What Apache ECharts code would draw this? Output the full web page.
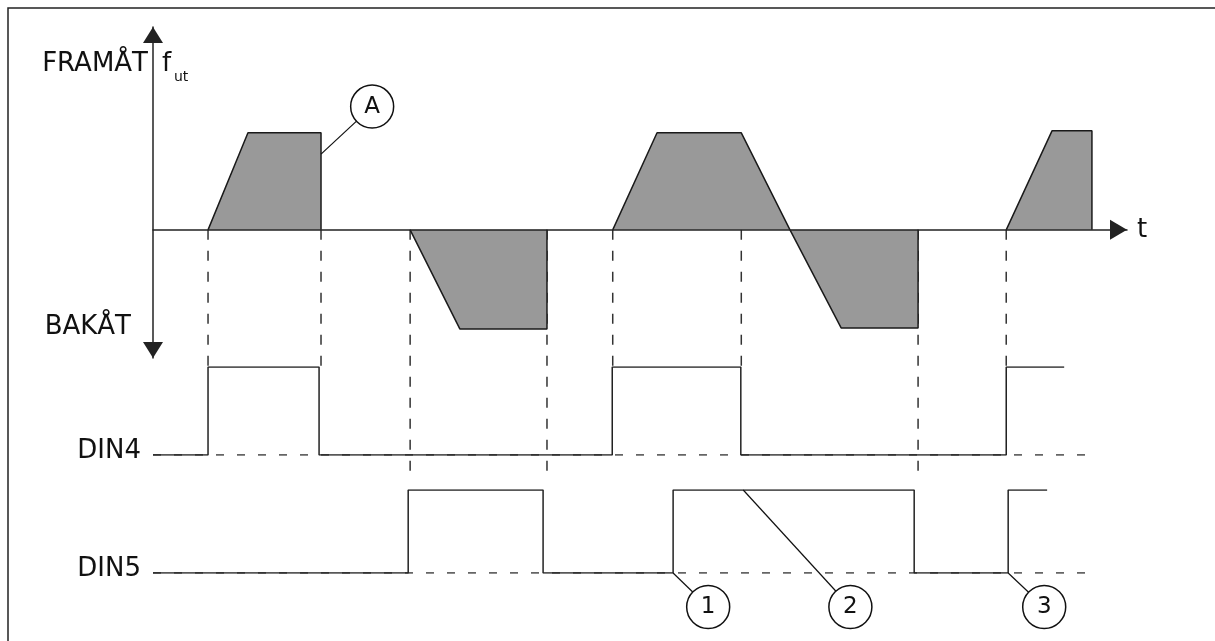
<!DOCTYPE html>
<html>
<head>
<meta charset="utf-8">
<script src="https://cdn.jsdelivr.net/npm/echarts@6/dist/echarts.min.js"></script>
<style>
html, body { margin: 0; padding: 0; background: #fff; }
#main { width: 1215px; height: 641px; }
</style>
</head>
<body>
<div id="main"></div>
<script>
// utfrekvens, pulser som [tid, f]
let pulse1 = [[5.65, 0], [9.75, 100], [17.25, 100], [17.25, 0]];
let pulse2 = [[26.4, 0], [31.5, -102], [40.45, -102], [40.45, 0]];
let pulse3 = [[47.2, 0], [51.75, 100], [60.4, 100], [65.4, 0], [70.65, -101], [78.55, -101], [78.55, 0]];
let pulse4 = [[87.6, 0], [92.3, 102], [96.4, 102], [96.4, 0]];

// digitala ingångar
let din4Times = [0, 5.65, 17.05, 47.15, 60.35, 87.6, 93.55];
let din4Levels = [0, 1, 0, 1, 0, 1, 1];
let din5Times = [0, 26.2, 40.05, 53.4, 78.15, 87.8, 91.8];
let din5Levels = [0, 1, 0, 1, 0, 1, 1];
let dinBaseEnd = 96.4;

// streckade hjälplinjer från tidsaxeln
let guideTimes = [5.65, 17.25, 26.4, 40.45, 47.2, 60.4, 78.55, 87.6];
let guideRows = [1, 1, 2, 2, 1, 1, 2, 1];
let guideLevels = [1, 1, 1.2, 1.2, 1, 1, 1.2, 1];

// markeringar
let calloutA = { name: 'A', at: [22.5, 127], from: [17.25, 78] };
let calloutNames = ['1', '2', '3'];
let calloutTimes = [57, 71.6, 91.5];
let calloutLevel = -0.41;
let calloutFromTimes = [53.4, 60.6, 87.8];
let calloutFromLevels = [0, 1, 0];

let font = '"DejaVu Sans", Verdana, sans-serif';
let ink = '#111';

let chart = echarts.init(document.getElementById('main'));

function hiddenX(i) {
    return { type: 'value', gridIndex: i, min: 0, max: 100, show: false };
}
function dinY(i, label) {
    return {
        type: 'value', gridIndex: i, min: 0, max: 1, interval: 1,
        axisLine: { show: false }, axisTick: { show: false }, splitLine: { show: false },
        axisLabel: {
            showMinLabel: true,
            formatter: function (v) { return v === 0 ? label : ''; },
            fontSize: 26, fontFamily: font, color: ink, margin: 12,
            verticalAlign: 'bottom', lineHeight: 7
        }
    };
}

function pulseSeries(data) {
    return {
        type: 'line', xAxisIndex: 0, yAxisIndex: 0, data: data,
        symbol: 'none', z: 2,
        lineStyle: { color: '#1a1a1a', width: 1.5 },
        areaStyle: { color: '#999999', opacity: 1 }
    };
}
function stepSeries(idx, times, levels) {
    return {
        type: 'line', xAxisIndex: idx, yAxisIndex: idx, step: 'end', symbol: 'none', z: 3,
        data: times.map(function (t, i) { return [t, levels[i]]; }),
        lineStyle: { color: '#222', width: 1.5 }
    };
}
function baseSeries(idx) {
    return {
        type: 'line', xAxisIndex: idx, yAxisIndex: idx, symbol: 'none', z: 2,
        data: [[0, 0], [dinBaseEnd, 0]],
        lineStyle: { color: '#333', width: 1.5, type: [8, 13] }
    };
}
function leader(idx, from, to) {
    return {
        type: 'line', xAxisIndex: idx, yAxisIndex: idx, symbol: 'none', z: 4, clip: false,
        data: [from, to], lineStyle: { color: '#111', width: 1.2 }
    };
}
function circles(idx, items) {
    return {
        type: 'scatter', xAxisIndex: idx, yAxisIndex: idx, clip: false, z: 5,
        symbol: 'circle', symbolSize: 43,
        itemStyle: { color: '#fff', borderColor: '#111', borderWidth: 1.5, opacity: 1 },
        label: {
            show: true, position: 'inside', formatter: function (p) { return p.name; },
            fontSize: 23, fontFamily: font, color: ink
        },
        data: items
    };
}

let series = [
    pulseSeries(pulse1), pulseSeries(pulse2), pulseSeries(pulse3), pulseSeries(pulse4),
    baseSeries(1), baseSeries(2),
    stepSeries(1, din4Times, din4Levels),
    stepSeries(2, din5Times, din5Levels),
    leader(0, calloutA.from, calloutA.at),
    circles(0, [{ name: calloutA.name, value: calloutA.at }])
];
calloutNames.forEach(function (n, i) {
    series.push(leader(2, [calloutFromTimes[i], calloutFromLevels[i]], [calloutTimes[i], calloutLevel]));
});
series.push(circles(2, calloutNames.map(function (n, i) {
    return { name: n, value: [calloutTimes[i], calloutLevel] };
})));

let option = {
    animation: false,
    backgroundColor: '#fff',
    grid: [
        { left: 153, width: 974, top: 27, height: 331 },
        { left: 153, width: 974, top: 367, height: 88 },
        { left: 153, width: 974, top: 490, height: 83 }
    ],
    xAxis: [
        {
            type: 'value', gridIndex: 0, min: 0, max: 100, z: 6,
            name: 't', nameLocation: 'end', nameGap: 10,
            nameTextStyle: { fontSize: 26, fontFamily: font, color: ink },
            axisLine: {
                onZero: true, symbol: ['none', 'triangle'], symbolSize: [20, 17], symbolOffset: [0, -8.5],
                lineStyle: { color: '#222', width: 1.5 }
            },
            axisTick: { show: false }, axisLabel: { show: false }, splitLine: { show: false }
        },
        hiddenX(1), hiddenX(2)
    ],
    yAxis: [
        {
            type: 'value', gridIndex: 0, min: -132, max: 209, z: 6,
            axisLine: {
                show: true, symbol: ['triangle', 'triangle'], symbolSize: [20, 16], symbolOffset: [8, -8],
                lineStyle: { color: '#222', width: 1.5 }
            },
            axisTick: { show: false }, axisLabel: { show: false }, splitLine: { show: false }
        },
        dinY(1, 'DIN4'), dinY(2, 'DIN5')
    ],
    graphic: [
        { type: 'rect', shape: { x: 8, y: 8, width: 1400, height: 1000 }, style: { fill: 'none', stroke: '#222', lineWidth: 1.5 }, silent: true },
        { type: 'text', x: 148, y: 64, style: { text: 'FRAMÅT', font: '26px ' + font, fill: ink, textAlign: 'right', textVerticalAlign: 'middle' } },
        { type: 'text', x: 162, y: 64, style: { text: 'f', font: '26px ' + font, fill: ink, textAlign: 'left', textVerticalAlign: 'middle' } },
        { type: 'text', x: 174, y: 77, style: { text: 'ut', font: '14px ' + font, fill: ink, textAlign: 'left', textVerticalAlign: 'middle' } },
        { type: 'text', x: 131, y: 327, style: { text: 'BAKÅT', font: '26px ' + font, fill: ink, textAlign: 'right', textVerticalAlign: 'middle' } }
    ],
    series: series
};
chart.setOption(option);

// hjälplinjerna går ner till DIN-raderna, räknas om till f-axelns skala
guideTimes.forEach(function (t, i) {
    let px = chart.convertToPixel({ gridIndex: guideRows[i] }, [t, guideLevels[i]]);
    let endF = chart.convertFromPixel({ gridIndex: 0 }, px)[1];
    series.push({
        type: 'line', xAxisIndex: 0, yAxisIndex: 0, symbol: 'none', z: 1, clip: false,
        data: [[t, 0], [t, endF]],
        lineStyle: { color: '#333', width: 1.5, type: [10, 11] }
    });
});
chart.setOption({ series: series });
</script>
</body>
</html>
